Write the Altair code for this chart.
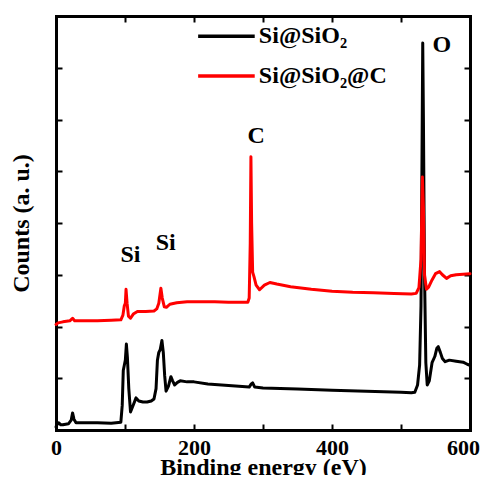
import altair as alt
import pandas as pd

# ---------------- data ----------------
series_names = ["Si@SiO\u2082", "Si@SiO\u2082@C"]

energy_black = [0, 2, 4, 7, 10, 18, 22, 24, 26, 29, 40, 60, 80, 94, 96, 97.5, 99, 100.5, 102, 103.5,
                105.5, 108, 111, 116, 120, 126, 132, 138, 142, 145, 147, 149, 151, 153.5, 155.5, 157.5,
                159.5, 163, 166.5, 169, 172, 176, 180, 190, 200, 220, 240, 260, 280, 283, 285, 288, 300,
                350, 400, 450, 500, 515, 520, 524, 527, 529, 530.5, 531.5, 532.5, 534, 536, 538,
                541, 545, 549, 552, 554, 557, 560, 564, 570, 580, 590, 596, 600]
counts_black = [0.06, 0.12, 0.14, 0.10, 0.10, 0.12, 0.19, 0.33, 0.21, 0.14, 0.14, 0.14, 0.13, 0.15, 0.48, 1.15,
                1.25, 1.35, 1.66, 1.40,
                0.80, 0.35, 0.45, 0.62, 0.56, 0.54, 0.54, 0.56, 0.60, 0.80, 1.35, 1.50, 1.55, 1.73, 1.50, 1.05,
                0.75, 0.85, 1.03, 0.95, 0.87, 0.92, 0.95, 0.93, 0.93, 0.89, 0.87, 0.85, 0.83, 0.89, 0.91, 0.83, 0.81,
                0.79, 0.77, 0.75, 0.73, 0.72, 0.73, 0.87, 1.26, 2.40, 5.40, 7.48, 6.00, 3.10, 1.30, 0.87,
                0.95, 1.30, 1.42, 1.58, 1.61, 1.50, 1.38, 1.32, 1.35, 1.33, 1.31, 1.27, 1.25]

energy_red = [0, 3, 10, 20, 24, 27, 40, 60, 80, 94, 97, 99, 100.5, 101.5, 103, 105, 108, 112, 118, 130,
              142, 146, 149, 152, 154, 157, 160, 165, 175, 190, 210, 230, 250, 270, 278, 280, 281.5,
              282.5, 283.5, 285, 287, 290, 295, 302, 310, 320, 340, 370, 400, 430, 460, 490, 515, 522,
              526, 529, 531, 532.5, 534, 537, 540, 545, 550, 556, 560, 566, 572, 580, 590, 600]
counts_red = [2.04, 2.07, 2.09, 2.11, 2.16, 2.11, 2.11, 2.11, 2.12, 2.13, 2.22, 2.40, 2.45, 2.72, 2.45,
              2.20, 2.16, 2.24, 2.29, 2.29, 2.30, 2.34, 2.45, 2.74, 2.55, 2.38, 2.37, 2.43, 2.46, 2.48,
              2.48, 2.48, 2.47, 2.47, 2.47, 2.55, 3.60, 5.28, 4.00, 3.05, 2.96, 2.80, 2.71, 2.80, 2.85,
              2.82, 2.77, 2.72, 2.68, 2.66, 2.65, 2.64, 2.63, 2.64, 2.75, 3.30, 4.89, 4.30, 3.00, 2.72,
              2.76, 2.90, 3.02, 3.06, 3.00, 2.93, 2.98, 3.00, 3.01, 3.02]

x_ticks = [0, 100, 200, 300, 400, 500, 600]
x_labels = [0, 200, 400, 600]
y_ticks = [1, 2, 3, 4, 5, 6, 7]

peak_labels = ["O", "C", "Si", "Si"]
peak_label_x = [559, 290, 108, 159]
peak_label_y = [7.30, 5.55, 3.25, 3.48]

legend_line_x = [206, 288]
legend_line_y = [7.61, 6.84]
legend_text_x = 294
legend_text_y = [7.47, 6.70]

# ---------------- tables ----------------
W, H = 414, 414
FONT = "Liberation Serif"

df_lines = pd.concat([
    pd.DataFrame({"energy": energy_black, "counts": counts_black, "sample": series_names[0], "order": range(len(energy_black))}),
    pd.DataFrame({"energy": energy_red, "counts": counts_red, "sample": series_names[1], "order": range(len(energy_red))}),
], ignore_index=True)

df_peaks = pd.DataFrame({"x": peak_label_x, "y": peak_label_y, "label": peak_labels})
df_leg_lines = pd.DataFrame({"x1": [legend_line_x[0]] * 2, "x2": [legend_line_x[1]] * 2,
                             "y": legend_line_y, "sample": series_names})
df_leg_text = pd.DataFrame({"x": [legend_text_x] * 2, "y": legend_text_y, "label": series_names})

xs = alt.Scale(domain=[0, 600], nice=False, zero=False)
ys = alt.Scale(domain=[0, 8], nice=False, zero=False)
cs = alt.Scale(domain=series_names, range=["#000000", "#ff0000"])

frame_axis = dict(labels=False, grid=False, domainColor="black", domainWidth=3, domainCap="square",
                  tickColor="black", tickWidth=2, tickSize=6, title=None, offset=-W)

lines = alt.Chart(df_lines).mark_line(strokeWidth=3, strokeJoin="round", strokeCap="round").encode(
    x=alt.X("energy:Q", scale=xs, axis=alt.Axis(
        orient="bottom", values=x_labels, ticks=False, domain=False, grid=False, labelFlush=False,
        labelOffset=alt.ExprRef("datum.value == 600 ? -7 : 0"),
        labelFont=FONT, labelFontSize=22, labelFontWeight="bold", labelColor="black", labelPadding=7,
        title="Binding energy (eV)", titleFont=FONT, titleFontSize=24, titleFontWeight="bold",
        titleColor="black", titleBaseline="alphabetic", titleY=44)),
    y=alt.Y("counts:Q", scale=ys, axis=alt.Axis(
        orient="left", labels=False, ticks=False, domain=False, grid=False,
        title="Counts (a. u.)", titleFont=FONT, titleFontSize=24, titleFontWeight="bold",
        titleColor="black", titleBaseline="alphabetic", titleX=-28, titleY=H / 2)),
    color=alt.Color("sample:N", scale=cs, legend=None),
    order="order:Q",
)

frame1 = alt.Chart(df_lines).mark_point(opacity=0).encode(
    x=alt.X("energy:Q", scale=xs, axis=alt.Axis(orient="top", values=x_ticks, **frame_axis)),
    y=alt.Y("counts:Q", scale=ys, axis=alt.Axis(orient="right", values=y_ticks, **frame_axis)),
)
frame2 = alt.Chart(df_lines).mark_point(opacity=0).encode(
    x=alt.X("energy:Q", scale=xs, axis=alt.Axis(orient="bottom", values=x_ticks, **frame_axis)),
    y=alt.Y("counts:Q", scale=ys, axis=alt.Axis(orient="left", values=y_ticks, **frame_axis)),
)

peaks = alt.Chart(df_peaks).mark_text(font=FONT, fontSize=24, fontWeight="bold", color="black",
                                      align="center", baseline="alphabetic").encode(
    x=alt.X("x:Q", scale=xs, axis=None), y=alt.Y("y:Q", scale=ys, axis=None), text="label:N")

leg_lines = alt.Chart(df_leg_lines).mark_rule(strokeWidth=3.5).encode(
    x=alt.X("x1:Q", scale=xs, axis=None), x2="x2:Q", y=alt.Y("y:Q", scale=ys, axis=None),
    color=alt.Color("sample:N", scale=cs, legend=None))

leg_text = alt.Chart(df_leg_text).mark_text(font=FONT, fontSize=24, fontWeight="bold", color="black",
                                            align="left", baseline="alphabetic").encode(
    x=alt.X("x:Q", scale=xs, axis=None), y=alt.Y("y:Q", scale=ys, axis=None), text="label:N")

chart = alt.layer(lines, frame1, frame2, peaks, leg_lines, leg_text).resolve_axis(
    x="independent", y="independent"
).properties(
    width=W, height=H,
    autosize=alt.AutoSizeParams(type="none"),
    padding={"left": 48, "top": 8, "right": 10, "bottom": 45},
).configure_view(strokeWidth=0)

chart.save("out.html", embed_options={"renderer": "svg", "actions": False})
